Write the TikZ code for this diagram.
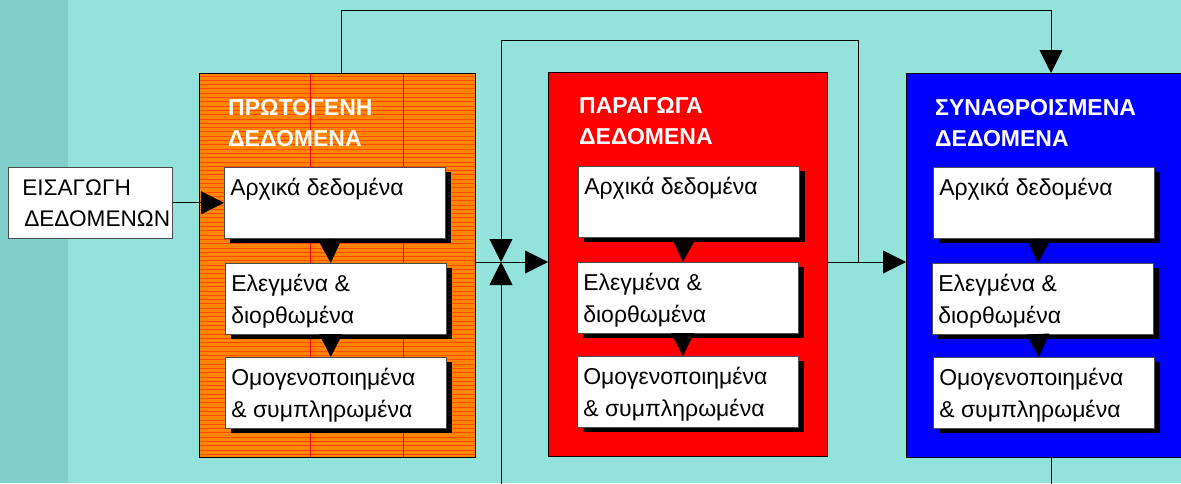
\documentclass[tikz,border=0pt]{standalone}
\usepackage{fontspec}
\setmainfont{Liberation Sans}
\usepackage{tikz}
\usetikzlibrary{arrows.meta}
\usetikzlibrary{shadows}

\definecolor{sea}{HTML}{93E2DC}
\definecolor{seadark}{HTML}{80CFCA}
\definecolor{orng}{HTML}{FF8400}
\definecolor{orngline}{HTML}{FF4A00}

\newcommand{\boxtext}[1]{\parbox[c][59pt][t]{209pt}{\strut #1}}
\newcommand{\headtext}[1]{\parbox[t]{260pt}{#1}}

\tikzset{
        stage/.style={draw=black, line width=0.8pt, anchor=north west, minimum height=384pt, inner sep=0pt},
        databox/.style={draw=black!70, line width=0.6pt, fill=white, anchor=north west, inner sep=6pt,
                font=\fontsize{23}{32}\selectfont,
                drop shadow={shadow xshift=6pt, shadow yshift=-5pt, fill=black, opacity=1}},
        heading/.style={anchor=base west, inner sep=0pt, text=white, font=\fontsize{23}{31}\selectfont\bfseries},
        flow/.style={-{Triangle[width=23pt,length=23pt]}, line width=0.8pt},
}

\begin{document}
\begin{tikzpicture}[x=1pt,y=-1pt]
        \clip (0,0) rectangle (1181,483);
        \fill[sea] (0,0) rectangle (1181,483);
        \fill[seadark] (0,0) rectangle (68,483);

        \coordinate (mid) at (501,262);
        \coordinate (ta) at (341,10);
        \coordinate (tb) at (1051,10);
        \coordinate (ja) at (501,40);
        \coordinate (jb) at (858,262);
        \coordinate (ba) at (501,495);
        \coordinate (bb) at (1051,495);

        % the three stages
        \node[stage, fill=orng, minimum width=276pt] (prim) at (199,73) {};
        \foreach \yy in {76,80.3,...,456}
                \draw[orngline, line width=0.9pt] (199.5,\yy) -- (474.5,\yy);
        \draw[red, line width=0.6pt] (310,73) -- (310,457) (403,73) -- (403,457);
        \draw[line width=0.8pt] (prim.north west) rectangle (prim.south east);
        \node[stage, fill=red, minimum width=279pt] (deriv) at (548,72) {};
        \node[stage, fill=blue, minimum width=300pt] (aggr) at (906,73) {};

        \node[heading] (hprim) at (228,115) {\headtext{ΠΡΩΤΟΓΕΝΗ\\ΔΕΔΟΜΕΝΑ}};
        \node[heading] (hderiv) at (579,113) {\headtext{ΠΑΡΑΓΩΓΑ\\ΔΕΔΟΜΕΝΑ}};
        \node[heading] (haggr) at (935,115) {\headtext{ΣΥΝΑΘΡΟΙΣΜΕΝΑ\\ΔΕΔΟΜΕΝΑ}};

        % data boxes
        \node[databox] (p1) at (224,167) {\boxtext{Αρχικά δεδομένα}};
        \node[databox] (p2) at (225,263) {\boxtext{Ελεγμένα \&\\διορθωμένα}};
        \node[databox] (p3) at (225,357) {\boxtext{Ομογενοποιημένα\\\& συμπληρωμένα}};
        \node[databox] (d1) at (578,166) {\boxtext{Αρχικά δεδομένα}};
        \node[databox] (d2) at (577,262) {\boxtext{Ελεγμένα \&\\διορθωμένα}};
        \node[databox] (d3) at (577,356) {\boxtext{Ομογενοποιημένα\\\& συμπληρωμένα}};
        \node[databox] (a1) at (933,167) {\boxtext{Αρχικά δεδομένα}};
        \node[databox] (a2) at (932,263) {\boxtext{Ελεγμένα \&\\διορθωμένα}};
        \node[databox] (a3) at (933,357) {\boxtext{Ομογενοποιημένα\\\& συμπληρωμένα}};

        \node[draw=black!70, line width=0.6pt, fill=white, anchor=north west, inner xsep=14pt, inner ysep=6pt,
                font=\fontsize{22.6}{31}\selectfont] (input) at (8,167)
                {\parbox[c][59pt][t]{136pt}{\strut ΕΙΣΑΓΩΓΗ\\\hspace*{2pt}ΔΕΔΟΜΕΝΩΝ}};

        % connectors
        \draw[flow] (input.east) -- (p1.west);
        \foreach \u/\v in {p1/p2,p2/p3,d1/d2,d2/d3,a1/a2,a2/a3}
                \draw[flow] ([xshift=-5pt]\u.south) -- ([xshift=-5pt]\v.north);
        \draw[flow] (prim.east |- mid) -- (deriv.west |- mid);
        \draw[flow] (deriv.east |- jb) -- (aggr.west |- jb);
        \draw[flow] (jb) |- (ja) -- (mid);
        \draw[flow] (ba) -- (mid);
        \draw[flow] (prim.north -| ta) -- (ta) -- (tb) -- (aggr.north -| tb);
        \draw[line width=0.8pt] (aggr.south -| bb) -- (bb);
\end{tikzpicture}
\end{document}
